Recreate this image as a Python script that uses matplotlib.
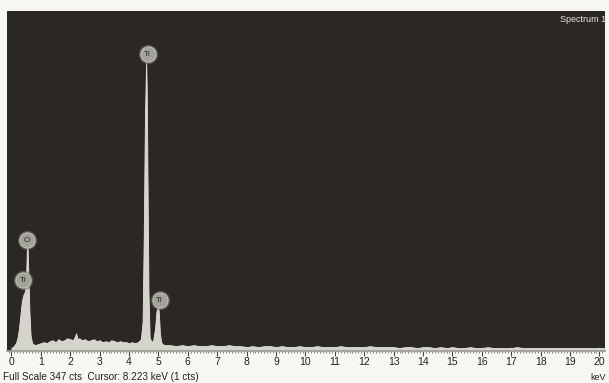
import matplotlib
matplotlib.use("Agg")
import matplotlib.pyplot as plt
from matplotlib.ticker import MultipleLocator

# ---- data ----
energy_kev = [
    0.00, 0.08, 0.15, 0.20, 0.25, 0.30, 0.35, 0.40, 0.45, 0.49, 0.52, 0.54, 0.57, 0.61, 0.65, 0.70,
    0.80, 0.90, 1.00, 1.10, 1.20, 1.30, 1.40, 1.50, 1.60, 1.70, 1.80, 1.90, 2.00, 2.10, 2.20,
    2.25, 2.30, 2.40, 2.50, 2.60, 2.70, 2.80, 2.90, 3.00, 3.10, 3.20, 3.30, 3.40, 3.50, 3.60,
    3.70, 3.80, 3.90, 4.00, 4.10, 4.20, 4.30, 4.40, 4.46, 4.50, 4.54, 4.58, 4.60, 4.62, 4.66,
    4.70, 4.76, 4.82, 4.88, 4.93, 4.97, 5.00, 5.02, 5.05, 5.09, 5.14, 5.20, 5.30,
    5.40, 5.60, 5.80, 6.00, 6.20, 6.40, 6.60, 6.80, 7.00, 7.20, 7.40, 7.60, 7.80, 8.00,
    8.20, 8.40, 8.60, 8.80, 9.00, 9.20, 9.40, 9.60, 9.80, 10.00, 10.20, 10.40, 10.60, 10.80,
    11.00, 11.20, 11.40, 11.60, 11.80, 12.00, 12.20, 12.40, 12.60, 12.80, 13.00, 13.20,
    13.40, 13.60, 13.80, 14.00, 14.20, 14.40, 14.60, 14.80, 15.00, 15.20, 15.40, 15.60,
    15.80, 16.00, 16.20, 16.40, 16.60, 16.80, 17.00, 17.20, 17.40, 17.60, 17.80, 18.00,
    18.20, 18.40, 18.60, 18.80, 19.00, 19.20, 19.40, 19.60, 19.80, 20.00, 20.20,
]
counts = [
    3, 5, 8, 13, 22, 36, 50, 57, 60, 70, 100, 116, 82, 40, 16, 8,
    6, 7, 8, 9, 8, 10, 11, 9, 12, 10, 11, 13, 12, 11, 18,
    12, 13, 11, 12, 10, 11, 12, 10, 11, 9, 10, 9, 11, 10, 9,
    10, 9, 9, 8, 9, 8, 9, 12, 30, 120, 240, 296, 270, 200, 60,
    14, 9, 11, 22, 40, 46, 44, 35, 18, 9, 7, 6, 6,
    6, 5, 6, 5, 6, 5, 5, 6, 5, 5, 6, 5, 5, 4,
    5, 4, 5, 5, 4, 5, 4, 4, 5, 4, 4, 5, 4, 4,
    4, 5, 4, 4, 4, 4, 5, 4, 4, 4, 4, 3,
    4, 4, 3, 4, 4, 3, 4, 3, 4, 3, 3, 4,
    3, 3, 4, 3, 3, 3, 3, 4, 3, 3, 3, 3,
    3, 3, 3, 3, 3, 3, 3, 3, 3, 3, 3,
]
peak_labels = ["O", "Ti", "Ti", "Ti"]
peak_label_kev = [0.53, 0.40, 4.63, 5.04]
peak_label_cts = [113, 72, 303, 52]
full_scale_cts = 347

# ---- figure ----
fig = plt.figure(figsize=(6.09, 3.83), dpi=100, facecolor="#f6f6f2")
ax = fig.add_axes([7 / 609, 1 - 351 / 383, 598 / 609, 340 / 383])
ax.set_facecolor("#2b2722")

ax.fill_between(energy_kev, counts, 0, color="#d4d4cc", linewidth=0.6,
                edgecolor="#e2e2da", zorder=2)

for lab, xe, yc in zip(peak_labels, peak_label_kev, peak_label_cts):
    ax.plot(xe, yc, "o", ms=14, mfc="#6e6c66", mec="none", alpha=0.6, zorder=3)
    ax.plot(xe, yc, "o", ms=11, mfc="#a2a29a", mec="#c0c0b8", mew=0.8,
            zorder=3)
    ax.text(xe, yc, lab, ha="center", va="center", fontsize=6,
            color="#2b2b28", zorder=4, family="Liberation Sans")

ax.set_xlim(-0.153, 20.19)
ax.set_ylim(0, full_scale_cts)
ax.xaxis.set_major_locator(MultipleLocator(1))
ax.xaxis.set_minor_locator(MultipleLocator(0.1))
ax.tick_params(axis="x", which="major", direction="inout", length=7, width=0.8,
               color="#444444", labelsize=7.5, labelcolor="#222222", pad=1)
ax.tick_params(axis="x", which="minor", direction="inout", length=3.5, width=0.5,
               color="#555555")
ax.set_yticks([])
for lbl in ax.get_xticklabels():
    lbl.set_family("Liberation Sans")
for side in ["top", "left", "right"]:
    ax.spines[side].set_visible(False)
ax.spines["bottom"].set_color("#9a9a94")
ax.spines["bottom"].set_linewidth(1.2)

fig.text(3 / 609, 1 - 377 / 383, "Full Scale 347 cts  Cursor: 8.223 keV (1 cts)",
         fontsize=7.2, color="#222222", ha="left", va="center",
         family="Liberation Sans")
fig.text(606 / 609, 1 - 378 / 383, "keV", fontsize=6.5, color="#222222",
         ha="right", va="center", family="Liberation Sans")
fig.text(606 / 609, 1 - 20 / 383, "Spectrum 1", fontsize=6.5, color="#e8e8e0",
         ha="right", va="center", family="Liberation Sans")

fig.savefig("out.png", dpi=100, facecolor=fig.get_facecolor())
